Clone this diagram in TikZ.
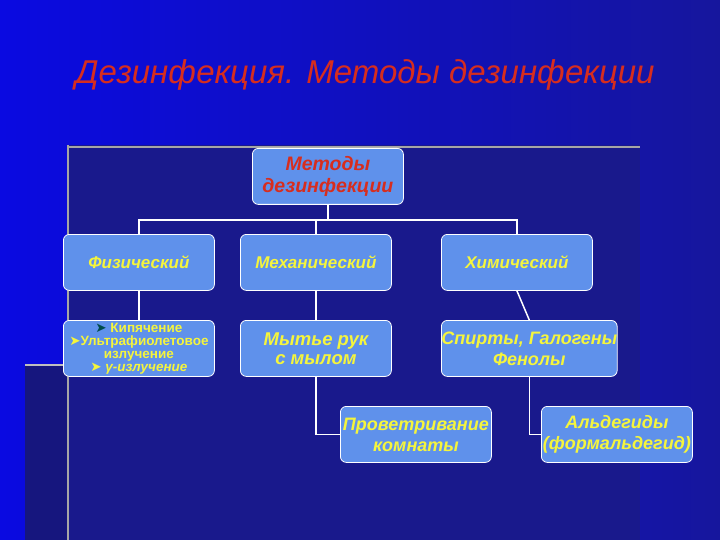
\documentclass[tikz,border=0pt]{standalone}
\usepackage{fontspec}
\setmainfont{Liberation Sans}
\newfontfamily\dejavu{DejaVu Sans}
\begin{document}
\begin{tikzpicture}[x=1pt,y=-1pt,
  box/.style={draw=white,line width=0.8pt,rounded corners=6pt,fill=boxc,minimum width=151pt,minimum height=56pt,anchor=north west,align=center,inner sep=0pt,font=\bfseries\itshape\fontsize{17}{19}\selectfont,text=yellowt},
  link/.style={draw=white,line width=1.5pt}]
\definecolor{bgbright}{RGB}{10,10,225}
\definecolor{bgdark}{RGB}{25,25,140}
\definecolor{boxc}{RGB}{95,145,235}
\definecolor{yellowt}{RGB}{245,245,60}
\definecolor{redt}{RGB}{215,45,30}
\useasboundingbox (0,0) rectangle (720,540);
\shade[left color=bgbright,right color=bgdark!80!bgbright] (0,0) rectangle (720,540);
\fill[bgdark] (68,145) rectangle (640,540);
\fill[bgdark!90!black] (25,365) rectangle (68,540);
\draw[gray!70,line width=2pt] (68,145)--(68,540);
\draw[gray!70,line width=1.5pt] (68,147)--(640,147);
\draw[gray!50,line width=1.5pt] (25,365)--(68,365);
\node[font=\itshape\fontsize{33}{36}\selectfont,text=redt] (title) at (365,75) {Дезинфекция. Методы дезинфекции};
\node[box,text=redt,font=\bfseries\itshape\fontsize{19.5}{22}\selectfont] (root) at (252,148) {Методы\\дезинфекции};
\node[box] (fiz) at (63,234) {Физический};
\node[box] (mech) at (240,234) {Механический};
\node[box] (chem) at (441,234) {Химический};
\node[box,font=\bfseries\fontsize{13.5}{13}\selectfont] (fiz2) at (63,320) {{\dejavu\color{teal!60!black}➤} Кипячение\\{\dejavu ➤}Ультрафиолетовое\\излучение\\{\dejavu ➤} {\itshape γ-излучение}};
\node[box,font=\bfseries\itshape\fontsize{18.5}{19}\selectfont] (mech2) at (240,320) {Мытье рук\\с мылом};
\node[box,font=\bfseries\itshape\fontsize{18}{21}\selectfont] (chem2) at (441,320) {Спирты, Галогены\\Фенолы};
\node[box,font=\bfseries\itshape\fontsize{18}{21}\selectfont] (air) at (340,406) {Проветривание\\комнаты};
\node[box,font=\bfseries\itshape\fontsize{18}{21}\selectfont] (ald) at (541,406) {Альдегиды\\(формальдегид)};
\coordinate (j) at (root.south |- 0,220);
\draw[link] (root.south) -- (j);
\draw[link] (fiz.north) |- (j) -| (chem.north);
\draw[link] (mech.north) -- (mech.north |- j);
\draw[link] (fiz.south) -- (fiz2.north);
\draw[link] (mech.south) -- (mech2.north);
\draw[link] (chem.south) -- (chem2.north);
\draw[link] (mech2.south) |- (air.west);
\draw[link] (chem2.south) |- (ald.west);
\end{tikzpicture}
\end{document}
